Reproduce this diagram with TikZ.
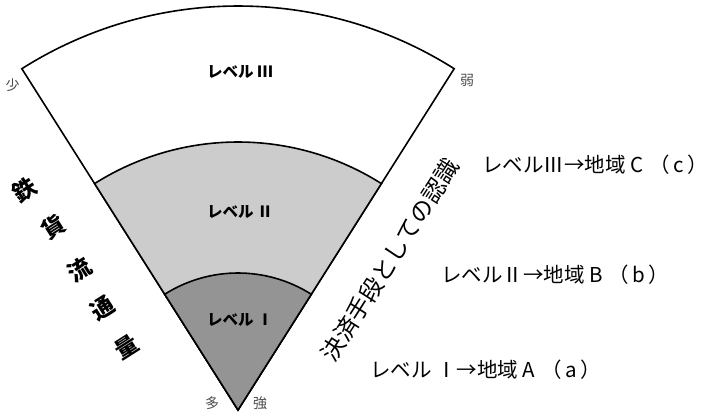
\documentclass[tikz,border=0pt]{standalone}
\usepackage{fontspec}
\setmainfont{Noto Sans CJK JP}
\begin{document}
\begin{tikzpicture}[x=1pt,y=1pt,
  sector/.style={draw=black,line width=1.6pt,line join=miter},
  lvl/.style={font=\fontsize{15.5}{15.5}\selectfont\bfseries,inner sep=0pt},
  small/.style={font=\fontsize{14}{14}\selectfont,text=black!70,inner sep=0pt},
  leftc/.style={font=\fontsize{23}{23}\selectfont\bfseries,inner sep=0pt},
  rlab/.style={font=\fontsize{20.5}{20.5}\selectfont,anchor=west,inner sep=0pt}]
\useasboundingbox (0,0) rectangle (711,415);
\coordinate (O) at (238,5);
\filldraw[sector,fill=white] (O) -- ++(57.65:404) arc[start angle=57.65,end angle=122.35,radius=404] -- cycle;
\filldraw[sector,fill=black!20] (O) -- ++(57.65:268) arc[start angle=57.65,end angle=122.35,radius=268] -- cycle;
\filldraw[sector,fill=black!42] (O) -- ++(57.65:137) arc[start angle=57.65,end angle=122.35,radius=137] -- cycle;
\node[lvl] (l3) at (240,343) {レベル Ⅲ};
\node[lvl] (l2) at (240,203) {レベル Ⅱ};
\node[lvl] (l1) at (240,95) {レベル Ⅰ};
\node[small] (s1) at (12.5,330) {少};
\node[small] (s2) at (467,335) {弱};
\node[small] (s3) at (212,12) {多};
\node[small] (s4) at (260,12) {強};
\node[leftc,rotate=32.4] (c1) at (25,225) {鉄};
\node[leftc,rotate=32.4] (c2) at (53,188) {貨};
\node[leftc,rotate=32.4] (c3) at (80,145) {流};
\node[leftc,rotate=32.4] (c4) at (103,107) {通};
\node[leftc,rotate=32.4] (c5) at (127,68) {量};
\node[font=\fontsize{23.5}{23.5}\selectfont,rotate=57.5,inner sep=0pt] (rt) at (390,155) {決済手段としての認識};
\node[rlab] (r3) at (482,250) {レベルⅢ→地域 C\hspace{0.3em}（\,c\,）};
\node[rlab] (r2) at (441,140) {レベルⅡ→地域 B\hspace{0.3em}（\,b\,）};
\node[rlab] (r1) at (370,45) {レベル Ⅰ→地域 A\hspace{0.3em}（\,a\,）};
\end{tikzpicture}
\end{document}
